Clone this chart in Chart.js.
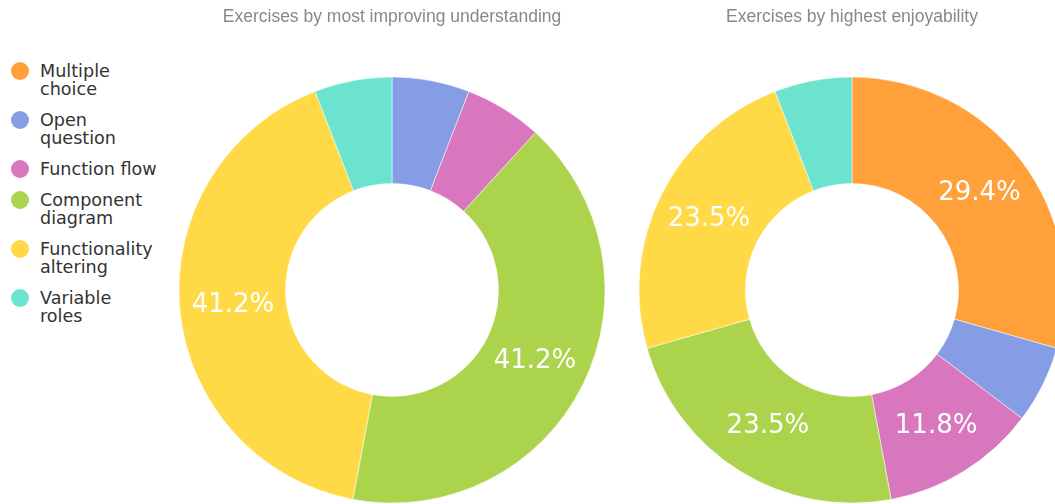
<!DOCTYPE html>
<html>
<head>
<meta charset="utf-8">
<script src="https://cdn.jsdelivr.net/npm/chart.js@4.4.1/dist/chart.umd.min.js"></script>
<style>
  html, body { margin: 0; padding: 0; background: #fff; overflow: hidden; width: 1055px; height: 504px; }
  .wrap { position: absolute; top: 0; width: 440px; height: 546px; }
  #legend { position: absolute; left: 11px; top: 62px; font-family: "DejaVu Sans", Verdana, sans-serif; font-size: 17.6px; line-height: 18px; color: #333; }
  .item { display: flex; align-items: flex-start; margin-bottom: 13px; }
  .dot { width: 18px; height: 18px; border-radius: 50%; margin-right: 11px; flex: none; }
</style>
</head>
<body>
<div id="legend"></div>
<div class="wrap" style="left:172px"><canvas id="chart_understanding"></canvas></div>
<div class="wrap" style="left:632px"><canvas id="chart_enjoyability"></canvas></div>
<script>
const categories = [
    ["Multiple", "choice"],
    ["Open", "question"],
    ["Function flow"],
    ["Component", "diagram"],
    ["Functionality", "altering"],
    ["Variable", "roles"],
];
const colors = ["#FFA03A", "#869DE6", "#D977BE", "#ABD34B", "#FFD946", "#6BE3CF"];

const understanding = [0, 1, 1, 7, 7, 1];
const enjoyability = [5, 1, 2, 4, 4, 1];

const titles = [
    "Exercises by most improving understanding",
    "Exercises by highest enjoyability",
];

// html legend on the left
const legend = document.getElementById("legend");
categories.forEach((lines, i) => {
    const item = document.createElement("div");
    item.className = "item";
    item.innerHTML =
        '<span class="dot" style="background:' + colors[i] + '"></span><span>' +
        lines.join("<br>") + "</span>";
    legend.appendChild(item);
});

// percentage labels inside the big slices
const percentLabels = {
    id: "percentLabels",
    afterDatasetsDraw(chart) {
        const ctx = chart.ctx;
        const data = chart.data.datasets[0].data;
        const total = data.reduce((a, b) => a + b, 0);
        const meta = chart.getDatasetMeta(0);
        ctx.save();
        ctx.fillStyle = "#fff";
        ctx.font = '26px "DejaVu Sans"';
        ctx.textAlign = "center";
        ctx.textBaseline = "middle";
        meta.data.forEach((arc, i) => {
            const pct = (data[i] / total) * 100;
            if (pct < 10) return;
            const pos = arc.tooltipPosition();
            ctx.fillText(pct.toFixed(1) + "%", pos.x, pos.y);
        });
        ctx.restore();
    },
};

function makeChart(el, values, title) {
    return new Chart(document.getElementById(el), {
        type: "doughnut",
        data: {
            labels: categories.map((l) => l.join(" ")),
            datasets: [
                {
                    data: values,
                    backgroundColor: colors,
                    borderColor: "#fff",
                    borderWidth: 0.5,
                    radius: 213,
                    cutout: "50%",
                },
            ],
        },
        options: {
            responsive: true,
            maintainAspectRatio: false,
            animation: false,
            plugins: {
                legend: { display: false },
                tooltip: { enabled: false },
                title: {
                    display: true,
                    text: title,
                    color: "#888",
                    font: { family: "Liberation Sans", size: 17.5, weight: "normal", lineHeight: 1.03 },
                    padding: { top: 8, bottom: 8 },
                },
            },
        },
        plugins: [percentLabels],
    });
}

makeChart("chart_understanding", understanding, titles[0]);
makeChart("chart_enjoyability", enjoyability, titles[1]);
</script>
</body>
</html>
